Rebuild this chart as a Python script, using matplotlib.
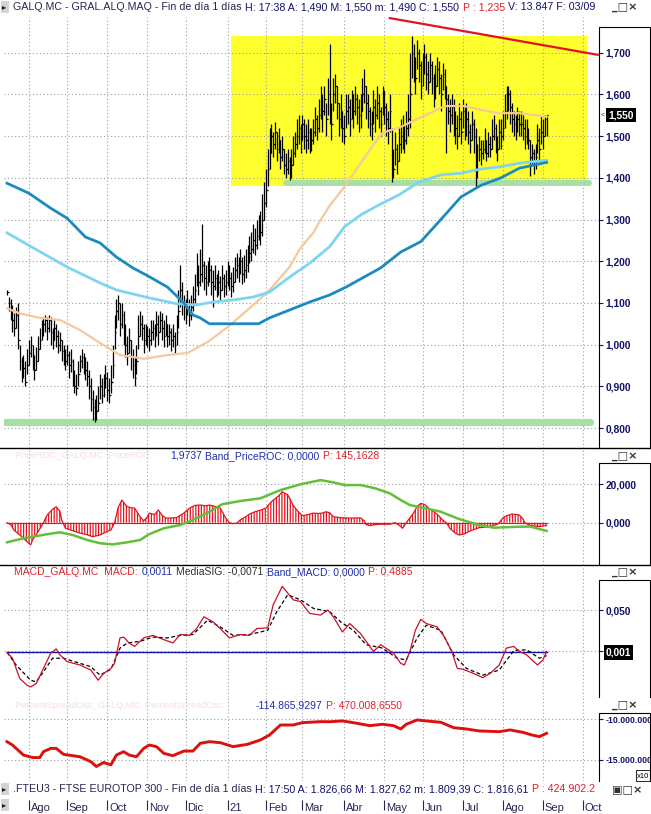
import numpy as np
import pandas as pd
import matplotlib
matplotlib.use("Agg")
import matplotlib.pyplot as plt
from matplotlib.lines import Line2D
from matplotlib.patches import Rectangle

# ---------------- data ----------------
# daily bars GALQ.MC, values in thousandths of euro (16-jul-2020 .. 03-sep-2021)
close = [1126, 1100, 1085, 1060, 1040, 1070, 1010, 960, 930, 945, 910, 950, 980, 1000, 960, 940,
         960, 990, 1010, 1040, 1050, 1060, 1040, 1060, 1030, 1010, 1040, 1020, 1000, 1010,
         985, 970, 960, 975, 950, 960, 930, 900, 895, 930, 960, 970, 955, 940, 925, 900, 870,
         850, 830, 840, 860, 900, 880, 900, 920, 890, 880, 910, 950, 1030, 1080, 1100,
         1050, 1070, 1030, 1000, 980, 1010, 970, 950, 920, 960, 1020, 1050, 1040, 1010, 1030,
         1020, 1010, 1030, 1040, 1020, 1050, 1030, 1060, 1040, 1020, 1050,
         1020, 1030, 1010, 1020, 1000, 1030, 1080, 1130, 1100, 1090,
         1080, 1100, 1070, 1090, 1110, 1130, 1180, 1150, 1170, 1190, 1160, 1150,
         1170, 1180, 1150, 1140, 1160, 1140, 1150, 1130, 1160, 1140, 1150, 1170, 1160, 1140, 1150, 1180,
         1190, 1180, 1200, 1170, 1180, 1190, 1200, 1220, 1230, 1250, 1240, 1260, 1280, 1270, 1300,
         1340, 1370, 1420, 1460, 1500, 1480, 1510, 1470, 1490,
         1450, 1470, 1430, 1420, 1440, 1410, 1430, 1460, 1480, 1500, 1520, 1490, 1530, 1500, 1490, 1510, 1480,
         1490, 1510, 1540, 1520, 1550, 1580, 1560, 1590, 1540, 1600, 1560,
         1530, 1600, 1620, 1580, 1540, 1560, 1520, 1500, 1560, 1570, 1540, 1580, 1560, 1590, 1570, 1550, 1560,
         1600, 1620, 1580, 1560, 1530, 1520, 1570, 1550, 1580, 1560, 1530, 1590, 1570, 1540, 1520, 1560,
         1460, 1420, 1470, 1440, 1480, 1500, 1510, 1490, 1520, 1540, 1600,
         1700, 1680, 1640, 1700, 1670, 1620, 1660, 1690, 1650, 1630, 1670, 1640, 1600, 1620, 1660, 1640, 1600,
         1650, 1620, 1590, 1560, 1550, 1570, 1540, 1520, 1500, 1540, 1510, 1560, 1530,
         1540, 1510, 1490, 1530, 1500, 1460, 1420, 1470, 1460, 1470, 1490, 1460, 1480, 1470,
         1500, 1520, 1490, 1470, 1510, 1500, 1520, 1560, 1580, 1600, 1570, 1540,
         1530, 1520, 1540, 1530, 1530, 1520, 1500, 1510, 1490, 1450, 1460, 1430, 1450,
         1490, 1470, 1510, 1500, 1540, 1550]
high = [1130, 1115, 1110, 1095, 1075, 1090, 1100, 1000, 970, 975, 960, 990, 1010, 1020, 1000, 975,
        995, 1020, 1040, 1060, 1065, 1070, 1065, 1070, 1065, 1040, 1060, 1050, 1035, 1030,
        1010, 1000, 990, 1000, 985, 990, 965, 940, 930, 960, 975, 990, 980, 970, 960, 940, 920,
        890, 870, 880, 900, 930, 920, 930, 950, 935, 920, 950, 1000, 1070, 1110, 1120,
        1100, 1100, 1080, 1050, 1020, 1040, 1010, 990, 970, 1000, 1070, 1080, 1070, 1050, 1050,
        1045, 1040, 1060, 1060, 1050, 1080, 1070, 1080, 1075, 1060, 1070,
        1050, 1050, 1040, 1050, 1030, 1070, 1130, 1190, 1150, 1120,
        1110, 1130, 1110, 1120, 1140, 1170, 1220, 1190, 1230, 1290, 1200, 1190,
        1200, 1210, 1190, 1180, 1190, 1170, 1180, 1165, 1190, 1170, 1180, 1200, 1190, 1175, 1185, 1210,
        1220, 1210, 1230, 1210, 1215, 1230, 1240, 1260, 1270, 1290, 1280, 1300, 1310, 1320, 1360,
        1390, 1420, 1470, 1520, 1530, 1510, 1535, 1510, 1520,
        1490, 1500, 1470, 1460, 1470, 1450, 1470, 1500, 1510, 1540, 1550, 1530, 1550, 1540, 1530, 1540, 1520,
        1520, 1540, 1570, 1550, 1590, 1620, 1600, 1620, 1580, 1640, 1720,
        1580, 1640, 1650, 1620, 1580, 1600, 1560, 1550, 1600, 1600, 1590, 1610, 1600, 1620, 1600, 1590, 1600,
        1640, 1660, 1620, 1600, 1570, 1560, 1610, 1590, 1620, 1600, 1570, 1620, 1610, 1580, 1560, 1600,
        1520, 1470, 1510, 1480, 1520, 1540, 1550, 1530, 1560, 1600, 1700,
        1740, 1720, 1690, 1730, 1710, 1680, 1700, 1720, 1700, 1680, 1700, 1680, 1650, 1670, 1690, 1680, 1650,
        1675, 1660, 1620, 1600, 1590, 1600, 1590, 1560, 1550, 1580, 1560, 1590, 1570,
        1580, 1560, 1530, 1560, 1540, 1520, 1480, 1500, 1490, 1490, 1520, 1490, 1510, 1500,
        1540, 1550, 1530, 1500, 1540, 1540, 1560, 1600, 1620, 1620, 1610, 1580,
        1560, 1550, 1570, 1560, 1560, 1550, 1540, 1540, 1520, 1490, 1480, 1470, 1480,
        1530, 1520, 1550, 1540, 1550, 1550]
low = [1120, 1080, 1060, 1030, 1020, 1040, 990, 940, 910, 920, 900, 930, 950, 970, 940, 915,
       940, 960, 990, 1010, 1020, 1030, 1010, 1030, 1000, 990, 1010, 995, 980, 985,
       960, 950, 940, 950, 920, 935, 900, 885, 880, 900, 935, 945, 930, 915, 900, 870, 840,
       820, 814, 820, 840, 870, 860, 875, 895, 865, 860, 885, 920, 990, 1040, 1060,
       1020, 1040, 1000, 970, 950, 980, 940, 920, 900, 930, 990, 1020, 1010, 980, 1000,
       995, 985, 1000, 1010, 995, 1020, 1000, 1030, 1010, 995, 1020,
       995, 1000, 985, 995, 980, 1000, 1040, 1090, 1070, 1060,
       1050, 1070, 1045, 1060, 1080, 1100, 1140, 1120, 1140, 1150, 1130, 1120,
       1140, 1150, 1120, 1090, 1130, 1115, 1120, 1105, 1130, 1115, 1120, 1140, 1130, 1115, 1125, 1150,
       1160, 1150, 1170, 1145, 1150, 1160, 1175, 1195, 1200, 1220, 1215, 1230, 1250, 1240, 1260,
       1300, 1330, 1380, 1420, 1460, 1450, 1470, 1440, 1460,
       1420, 1440, 1410, 1400, 1410, 1395, 1400, 1430, 1450, 1470, 1480, 1460, 1490, 1470, 1460, 1470, 1460,
       1465, 1480, 1500, 1490, 1510, 1540, 1510, 1550, 1500, 1550, 1530,
       1490, 1560, 1580, 1540, 1500, 1520, 1485, 1480, 1520, 1530, 1500, 1540, 1520, 1550, 1530, 1510, 1520,
       1560, 1580, 1540, 1520, 1500, 1490, 1530, 1510, 1540, 1520, 1500, 1550, 1530, 1500, 1480, 1510,
       1390, 1400, 1430, 1410, 1440, 1460, 1470, 1460, 1480, 1500, 1520,
       1640, 1630, 1600, 1660, 1630, 1590, 1620, 1650, 1610, 1600, 1630, 1600, 1570, 1590, 1620, 1600, 1560,
       1610, 1590, 1460, 1530, 1510, 1530, 1500, 1480, 1470, 1500, 1480, 1520, 1490,
       1500, 1480, 1460, 1490, 1460, 1378, 1400, 1440, 1430, 1445, 1460, 1440, 1450, 1450,
       1470, 1490, 1460, 1440, 1470, 1470, 1490, 1520, 1540, 1560, 1530, 1510,
       1500, 1490, 1510, 1500, 1500, 1490, 1470, 1480, 1470, 1405, 1430, 1410, 1420,
       1460, 1440, 1480, 1470, 1500, 1500]

# moving averages (bar index, value)
ma_long_idx = [0, 12, 24, 33, 43, 51, 60, 69, 78, 88, 97, 102, 106, 111, 124, 138, 144, 155, 166, 177,
               186, 205, 216, 227, 238, 249, 260, 271, 281, 296]
ma_long = [1.387, 1.363, 1.327, 1.303, 1.258, 1.244, 1.21, 1.184, 1.163, 1.138, 1.1, 1.071, 1.064, 1.05,
           1.05, 1.05, 1.064, 1.083, 1.102, 1.119, 1.138, 1.184, 1.222, 1.247, 1.30, 1.354, 1.382, 1.40,
           1.423, 1.437]
ma_mid_idx = [0, 14, 33, 51, 60, 78, 93, 104, 113, 124, 135, 144, 155, 166, 177, 185, 194, 204, 215,
              226, 238, 249, 260, 270, 281, 296]
ma_mid = [1.268, 1.233, 1.186, 1.148, 1.131, 1.112, 1.098, 1.095, 1.102, 1.107, 1.114, 1.126, 1.162,
          1.195, 1.235, 1.282, 1.311, 1.335, 1.359, 1.39, 1.407, 1.411, 1.421, 1.426, 1.435, 1.442]
ma_short_idx = [0, 7, 18, 29, 40, 51, 62, 75, 88, 99, 110, 121, 133, 143, 155, 161, 168, 172, 177, 185,
                194, 199, 206, 216, 224, 232, 240, 251, 260, 270, 281, 290, 296]
ma_short = [1.087, 1.075, 1.064, 1.059, 1.035, 1.004, 0.975, 0.966, 0.975, 0.98, 1.006, 1.042, 1.087,
            1.126, 1.186, 1.232, 1.268, 1.299, 1.333, 1.378, 1.435, 1.467, 1.508, 1.522, 1.539, 1.555,
            1.572, 1.572, 1.563, 1.555, 1.555, 1.55, 1.546]

# drawn objects on price panel
zone_idx = [123, 318]
zone_val = [1.381, 1.74]
support_hi_idx = [153, 319]
support_hi = 1.387
support_lo_idx = [-1, 320]
support_lo = 0.814
trend_idx = [210, 324]
trend_val = [1.783, 1.695]

# PriceROC histogram and its band
roc_idx = [0, 2, 4, 7, 10, 13, 14, 17, 20, 22, 25, 27, 29, 30, 32, 35, 37, 40, 43, 47, 51, 54, 57, 59,
           61, 63, 64, 66, 69, 70, 73, 75, 77, 78, 81, 83, 85, 87, 89, 93, 97, 100, 103, 106, 109, 111,
           114, 117, 120, 122, 124, 126, 128, 131, 133, 136, 139, 142, 145, 149, 151, 154, 155, 157, 159,
           162, 165, 168, 171, 173, 175, 177, 179, 183, 188, 194, 196, 197, 199, 202, 205, 210, 213, 216,
           217, 219, 221, 223, 225, 227, 229, 232, 236, 239, 241, 243, 246, 248, 251, 254, 259, 265, 269,
           270, 272, 274, 277, 280, 281, 283, 284, 287, 292, 296]
roc_val = [0, -1, -4, -6.4, -9, -11.6, -9, -4.8, 0, 4, 7, 8.3, 6, 1.4, -2.8, -3.8, -4.5, -5.4, -6, -7.3,
           -6.4, -5, -3.8, 0, 8, 11.8, 10.5, 8.3, 7.6, 7.6, 3.1, 1, 3, 5, 4.2, 6.6, 4, 2.4, 2.4, 2.6, 5,
           7.5, 9, 9.2, 8.8, 9.2, 8.5, 7.6, 2.4, 0, -0.5, -0.3, 1.5, 3.1, 4.5, 5.7, 6.5, 7.6, 10.9, 14,
           16.1, 14.5, 12.8, 9, 6.6, 3.6, 4.2, 5, 4.8, 5, 5.7, 5.2, 3.1, 2.6, 2.4, 2.5, 1, -1, -1.5, -1,
           -0.8, -0.8, 0, -2, -2.9, 0, 2.5, 5, 8.5, 10.1, 9.5, 7.1, 4.4, 1.4, 0, -3, -5.5, -6.4, -5.8,
           -4.3, -2.6, -2, -0.8, 0, 2.5, 3.6, 4.5, 4.2, 4, 2, 0, -1.5, -2, -1.5]
band_idx = [0, 7, 14, 22, 29, 36, 44, 51, 58, 66, 73, 78, 86, 95, 102, 111, 118, 128, 139, 150, 161, 168,
            172, 179, 185, 194, 202, 210, 216, 221, 228, 238, 248, 259, 267, 281, 287, 296]
band_val = [-10.2, -8.6, -7.3, -6, -5, -6.4, -9, -10.7, -11.3, -10.2, -9, -6, -2.9, -1.2, 1.4, 5.7, 9.6,
            11.3, 12.7, 17, 20, 21.4, 22.2, 21, 19.6, 19.6, 17.9, 15.3, 11.8, 9.2, 7.8, 5.7, 1.9, -1.2,
            -2.6, -2.1, -2, -4.3]

# MACD and signal
macd_idx = [0, 3, 7, 11, 13, 16, 20, 24, 27, 29, 33, 40, 46, 50, 53, 57, 59, 62, 64, 67, 70, 75, 80, 86,
            91, 95, 100, 104, 108, 113, 117, 122, 128, 133, 137, 143, 146, 151, 157, 161, 166, 172, 176,
            179, 184, 188, 194, 201, 205, 212, 216, 218, 221, 224, 227, 230, 236, 240, 244, 247, 250, 256,
            261, 265, 270, 274, 278, 281, 285, 291, 294, 296]
macd = [0, -0.007, -0.031, -0.039, -0.041, -0.037, -0.019, -0.001, 0.004, -0.003, -0.011, -0.015, -0.021,
        -0.033, -0.025, -0.019, -0.013, 0.017, 0.018, 0.011, 0.007, 0.017, 0.020, 0.015, 0.011, 0.021,
        0.020, 0.028, 0.042, 0.036, 0.028, 0.017, 0.021, 0.020, 0.028, 0.029, 0.056, 0.078, 0.062, 0.060,
        0.046, 0.044, 0.050, 0.042, 0.024, 0.034, 0.022, 0.001, 0.009, -0.001, -0.013, -0.015, 0.001,
        0.026, 0.039, 0.034, 0.030, 0.018, 0.001, -0.019, -0.020, -0.025, -0.030, -0.025, -0.015, 0.005,
        0.007, 0.001, -0.003, -0.015, -0.009, 0.001]
sig_idx = [0, 5, 13, 16, 20, 25, 31, 40, 46, 51, 57, 62, 66, 73, 80, 88, 95, 102, 110, 117, 124, 133, 143,
           148, 154, 161, 168, 177, 183, 190, 197, 206, 214, 219, 225, 230, 238, 245, 252, 261, 270, 278,
           285, 292, 296]
sig = [0, -0.015, -0.033, -0.035, -0.023, -0.007, -0.007, -0.013, -0.017, -0.027, -0.020, 0.005, 0.011,
       0.013, 0.018, 0.017, 0.020, 0.021, 0.038, 0.030, 0.020, 0.021, 0.026, 0.048, 0.068, 0.062, 0.052,
       0.048, 0.036, 0.026, 0.009, 0.005, -0.007, -0.009, 0.017, 0.032, 0.026, -0.003, -0.019, -0.027,
       -0.021, 0.002, 0.003, -0.007, -0.004]

# PercentSpreadOsc (millions)
pso_idx = [0, 3, 9, 14, 18, 20, 24, 27, 31, 36, 40, 46, 49, 53, 57, 60, 64, 67, 71, 75, 78, 82, 86, 91,
           97, 102, 106, 111, 117, 124, 132, 139, 144, 150, 157, 162, 172, 177, 184, 192, 199, 206, 212,
           216, 219, 225, 230, 238, 245, 252, 259, 270, 276, 283, 288, 292, 296]
pso = [-12.75, -13.16, -14.39, -14.7, -14.7, -13.98, -13.57, -13.57, -14.3, -14.47, -14.6, -15.2, -15.8,
       -15.3, -15.6, -14.39, -13.98, -14.39, -14.6, -13.57, -13.16, -13.36, -14.18, -14.47, -13.9, -13.9,
       -12.95, -12.75, -12.87, -13.36, -13.07, -12.54, -11.93, -10.7, -10.7, -10.41, -10.29, -10.3, -10.2,
       -10.49, -10.78, -10.61, -10.78, -11.19, -10.61, -10.08, -10.2, -10.37, -11.03, -11.19, -11.43,
       -11.52, -11.31, -11.6, -11.93, -12.13, -11.72]

month_labels = ["Ago", "Sep", "Oct", "Nov", "Dic", "21", "Feb", "Mar", "Abr", "May", "Jun", "Jul",
                "Ago", "Sep", "Oct"]

# ---------------- setup ----------------
NAVY = "#12126a"
INK = "#262650"
BLUE = "#1e2eb0"
RED = "#e0202a"
GRID = "#a0a0a0"
FONT = "Liberation Sans"
plt.rcParams["font.family"] = [FONT, "DejaVu Sans"]
plt.rcParams["hatch.linewidth"] = 0.9

W, H = 651, 814
fig = plt.figure(figsize=(W / 100, H / 100), dpi=100)
fig.patch.set_facecolor("white")

days = pd.bdate_range("2020-07-16", "2021-10-08")
month_pos = [i for i in range(1, len(days)) if days[i].month != days[i - 1].month]

PXBAR = 1.823  # pixels per trading day


def px2idx(px):
    return (px - 7) / PXBAR


XL = (px2idx(4), px2idx(598.7))


def px_axes(x0, y0, x1, y1):
    return fig.add_axes([x0 / W, 1 - y1 / H, (x1 - x0) / W, (y1 - y0) / H])


def fig_line(xs, ys, **kw):
    fig.add_artist(Line2D([x / W for x in xs], [1 - y / H for y in ys],
                          transform=fig.transFigure, **kw))


def style_panel(ax, ylim, ticks, labels, labelsize=7.4):
    ax.set_xlim(XL)
    ax.set_ylim(ylim)
    ax.set_xticks(month_pos)
    ax.set_yticks(ticks)
    ax.set_yticklabels(labels)
    ax.yaxis.tick_right()
    ax.tick_params(axis="x", length=0, labelbottom=False)
    ax.tick_params(axis="y", direction="out", length=3, width=0.8, color=NAVY,
                   labelcolor=NAVY, labelsize=labelsize, pad=2)
    for t in ax.get_yticklabels():
        t.set_fontweight("bold")
    for s in ax.spines.values():
        s.set_visible(False)
    ax.grid(True, ls=(0, (1, 2.2)), color=GRID, lw=0.8)
    ax.set_axisbelow(True)
    ax.patch.set_alpha(0)


renderer = fig.canvas.get_renderer()


def rich_text(x, y, parts, size=7.5):
    for s, c in parts:
        t = fig.text(x / W, 1 - y / H, s, color=c, fontsize=size, va="center", ha="left")
        x += t.get_window_extent(renderer=renderer).width + 3.5


def win_icons(y, first="_"):
    fig.text(612 / W, 1 - y / H, first + "\u25a1\u00d7", fontsize=8, family="DejaVu Sans",
             fontweight="bold", color="#303030", va="center", ha="left", zorder=6)


def arrow_icon(y):
    fig.add_artist(Rectangle((1 / W, 1 - (y + 6) / H), 8 / W, 12 / H, transform=fig.transFigure,
                             facecolor="#d4d4d4", edgecolor="none"))
    fig.text(2 / W, 1 - y / H, "\u25b8", fontsize=6, family="DejaVu Sans", color="#202020",
             va="center", ha="left")


x = np.arange(len(close))
c = np.array(close) / 1000
hi = np.array(high) / 1000
lo = np.array(low) / 1000

# ---------------- price panel ----------------
ax = px_axes(4, 17, 598.7, 448)
ylim_main = (0.8 - 20 / 417, 1.7 + 35.7 / 417)
ticks_main = [0.8 + 0.1 * k for k in range(10)]
style_panel(ax, ylim_main, ticks_main, [f"{v:.3f}".replace(".", ",") for v in ticks_main])

ax.add_patch(Rectangle((zone_idx[0], zone_val[0]), zone_idx[1] - zone_idx[0], zone_val[1] - zone_val[0],
                       facecolor="#ffff30", edgecolor="none", zorder=0.2))
ax.plot(support_hi_idx, [support_hi] * 2, color="#a6e0a4", lw=4.2, solid_capstyle="round", zorder=1)
ax.plot(support_lo_idx, [support_lo] * 2, color="#a6e0a4", lw=5.2, solid_capstyle="round", zorder=1)

ax.vlines(x, lo, hi, color="black", lw=0.9, zorder=2)
ax.hlines(c, x, x + 0.9, color="black", lw=0.9, zorder=2)

ax.plot(ma_short_idx, ma_short, color="#f6c89a", lw=1.6, zorder=3)
ax.plot(ma_mid_idx, ma_mid, color="#7fd5f0", lw=2.0, zorder=3)
ax.plot(ma_long_idx, ma_long, color="#1b8bbf", lw=2.0, zorder=3)
ax.plot(trend_idx, trend_val, color="#e0141e", lw=1.6, zorder=4)

ax.annotate("1,550", xy=(1, c[-1]), xycoords=("axes fraction", "data"), xytext=(7, 0),
            textcoords="offset points", color="white", fontsize=7.4, fontweight="bold",
            va="center", ha="left", annotation_clip=False,
            bbox=dict(boxstyle="square,pad=0.2", facecolor="black", edgecolor="none"))
ax.annotate("<", xy=(1, c[-1]), xycoords=("axes fraction", "data"), xytext=(1.5, 0),
            textcoords="offset points", color="#303030", fontsize=5, va="center", ha="left",
            annotation_clip=False)

# ---------------- PriceROC panel ----------------
ax2 = px_axes(4, 448, 598.7, 565)
style_panel(ax2, ((522.7 - 565) / 1.92, (522.7 - 448) / 1.92), [0, 20], ["0,000", "20,000"])
ax2.fill_between(roc_idx, 0, roc_val, facecolor="none", edgecolor="#e4141e", hatch="||||||",
                 linewidth=0, zorder=2)
ax2.plot(roc_idx, roc_val, color="#e4141e", lw=0.9, zorder=2)
ax2.plot([0, roc_idx[-1]], [0, 0], color="#e4141e", lw=0.8, zorder=2)
ax2.plot(band_idx, band_val, color="#62bf3a", lw=1.8, zorder=3)

# ---------------- MACD panel ----------------
ax3 = px_axes(4, 565, 598.7, 697)
style_panel(ax3, ((652.3 - 697) / 846, (652.3 - 565) / 846), [0.001, 0.05], ["0,001", "0,050"])
lab = ax3.get_yticklabels()[0]
lab.set_color("white")
lab.set_bbox(dict(boxstyle="square,pad=0.2", facecolor="black", edgecolor="none"))
ax3.plot([0, macd_idx[-1]], [0, 0], color="#1010b0", lw=1.0, zorder=2)
ax3.plot(sig_idx, sig, color="black", lw=0.9, ls=(0, (3, 2)), zorder=3)
ax3.plot(macd_idx, macd, color="#c8102a", lw=0.9, zorder=4)

# ---------------- PercentSpreadOsc panel ----------------
ax4 = px_axes(4, 697, 598.7, 781)
style_panel(ax4, (-10 - (781 - 719.3) / 8.14, -10 + (719.3 - 697) / 8.14), [-15, -10],
            ["-15.000.000", "-10.000.000"], labelsize=6.2)
ax4.plot(pso_idx, pso, color="#dd1010", lw=2.1, zorder=3)

# ---------------- month axis ----------------
ax5 = px_axes(4, 797, 598.7, 814)
ax5.set_xlim(XL)
ax5.set_ylim(0, 1)
ax5.axis("off")
ax5.vlines(month_pos, 0.22, 0.84, color=INK, lw=0.8)
for p, m in zip(month_pos, month_labels):
    ax5.text(p + 1.0, 0.36, m, color=INK, fontsize=8, va="center", ha="left")

# ---------------- frames ----------------
fig_line([0, W], [448.5, 448.5], color="black", lw=1.0)
fig_line([0, W], [565, 565], color="black", lw=1.0)
for top, bot in [(27, 448.5), (463, 565), (580, 697), (713, 781)]:
    fig_line([598.7, 598.7, 650, 650], [bot, top, top, bot], color="black", lw=0.8)
fig.add_artist(Rectangle((636 / W, 1 - 781 / H), 14 / W, 11 / H, transform=fig.transFigure,
                         facecolor="white", edgecolor="black", lw=0.6))
fig.text(637 / W, 1 - 776 / H, "x10", fontsize=5.5, color="black", va="center", ha="left")

# ---------------- texts ----------------
arrow_icon(7)
rich_text(13, 7, [("GALQ.MC - GRAL.ALQ.MAQ - Fin de día 1 días", INK),
                  ("H: 17:38 A: 1,490 M: 1,550 m: 1,490 C: 1,550", NAVY),
                  ("P : 1,235", RED), ("V: 13.847 F: 03/09", NAVY)], size=7.7)
win_icons(7)

fig.text(15 / W, 1 - 456 / H, "PriceROC_GALQ.MC  PriceROC:", color="#f8dcdc", fontsize=6.6,
         va="center", ha="left")
rich_text(170, 456, [("1,9737", BLUE), ("Band_PriceROC: 0,0000", BLUE), ("P: 145,1628", RED)])
win_icons(456)

rich_text(14, 572, [("MACD_GALQ.MC  MACD:", RED), ("0,0011", BLUE), ("MediaSIG: -0,0071", "#303030"),
                    ("Band_MACD: 0,0000", BLUE), ("P: 0,4885", RED)])
win_icons(572)

fig.text(15 / W, 1 - 705 / H, "PercentSpreadOsc_GALQ.MC  PercentSpreadOsc:", color="#f8dcdc",
         fontsize=6.6, va="center", ha="left")
rich_text(256, 705, [("-114.865,9297", BLUE), ("P: 470.008,6550", RED)])
win_icons(705)

arrow_icon(789)
rich_text(13, 789, [(".FTEU3 - FTSE EUROTOP 300 - Fin de día 1 días", INK),
                    ("H: 17:50 A: 1.826,66 M: 1.827,62 m: 1.809,39 C: 1.816,61", NAVY),
                    ("P : 424.902.2", RED)], size=7.7)
win_icons(789, first="\u25a3")
arrow_icon(805)

fig.savefig("out.png", dpi=100)
